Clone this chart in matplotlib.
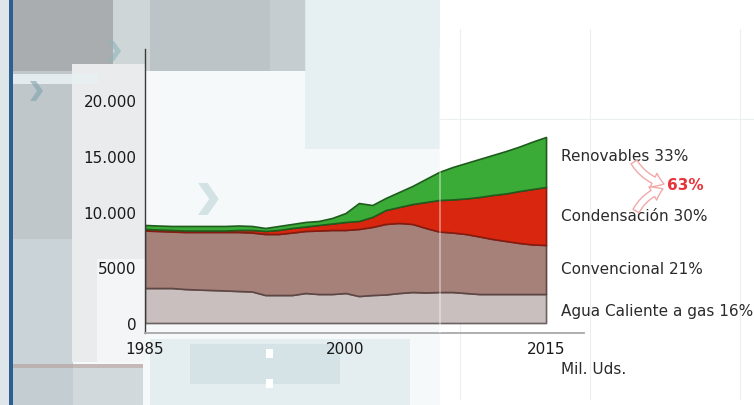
import matplotlib
matplotlib.use("Agg")
import matplotlib.pyplot as plt
from matplotlib.patches import Rectangle, FancyArrowPatch, Polygon

# ---------------- data (thousand units) ----------------
years = list(range(1985, 2016))
agua = [3140, 3140, 3140, 3050, 3000, 2960, 2920, 2870, 2830, 2510,
        2510, 2510, 2690, 2600, 2600, 2690, 2420, 2510, 2560, 2690,
        2780, 2740, 2780, 2780, 2690, 2600, 2600, 2600, 2600, 2600, 2600]
conv_top = [8300, 8260, 8210, 8170, 8170, 8170, 8170, 8170, 8120, 7990,
            7990, 8120, 8260, 8300, 8350, 8350, 8440, 8620, 8890, 8980,
            8890, 8530, 8210, 8120, 7990, 7770, 7540, 7360, 7180, 7050, 7000]
cond_top = [8440, 8390, 8350, 8300, 8300, 8300, 8300, 8350, 8350, 8260,
            8350, 8530, 8660, 8800, 8930, 9070, 9160, 9520, 10140, 10410,
            10680, 10860, 11040, 11090, 11180, 11310, 11490, 11630, 11850, 12030, 12210]
total = [8800, 8750, 8710, 8710, 8710, 8710, 8710, 8750, 8710, 8530,
         8710, 8890, 9070, 9160, 9430, 9870, 10770, 10590, 11220, 11760,
         12300, 12930, 13560, 14000, 14360, 14720, 15080, 15440, 15840, 16290, 16700]
convencional = [c - a for c, a in zip(conv_top, agua)]
condensacion = [r - c for r, c in zip(cond_top, conv_top)]
renovables = [t - r for t, r in zip(total, cond_top)]

series_labels = ["Renovables 33%", "Condensación 30%", "Convencional 21%", "Agua Caliente a gas 16%"]
combined_label = "63%"
unit_label = "Mil. Uds."
ytick_vals = [0, 5000, 10000, 15000, 20000]
ytick_labels = ["0", "5000", "10.000", "15.000", "20.000"]
xtick_vals = [1985, 2000, 2015]
xtick_labels = ["1985", "2000", "2015"]

fill_colors = ["#c8bfbe", "#a6817a", "#d8260f", "#3aab36"]
edge_colors = ["#6c6262", "#5e4644", "#861a0e", "#1f5c1d"]

W, H = 754, 406
fig = plt.figure(figsize=(W / 100, H / 100), dpi=100)
fig.patch.set_facecolor("white")

# ---------------- decorative background ----------------
bg = fig.add_axes([0, 0, 1, 1])
bg.set_xlim(0, W)
bg.set_ylim(H, 0)
bg.axis("off")
bg.set_zorder(0)

def rect(x, y, w, h, c, a=1.0, z=0):
    bg.add_patch(Rectangle((x, y), w, h, facecolor=c, edgecolor="none", alpha=a, zorder=z))

rect(0, 0, W, H, "#f6f9fa")
rect(440, 0, 314, H, "#ffffff")
rect(13, 0, 60, H, "#bfc7cb")
rect(13, 240, 60, 166, "#c9d3d8")
rect(13, 0, 100, 72, "#a9adb0")
rect(113, 0, 40, 72, "#cfd6d8")
rect(150, 0, 120, 72, "#bcc4c7")
rect(270, 0, 36, 72, "#c6cdd0")
rect(305, 0, 135, 150, "#e3eef2", 0.8)
rect(72, 65, 73, 298, "#e9ebec")
rect(97, 260, 48, 103, "#f3f5f6")
rect(13, 75, 85, 10, "#e8f0f2", 0.9)
rect(13, 365, 130, 4, "#b8a9a6", 0.8)
rect(13, 369, 130, 37, "#c3ccd0", 0.7)
rect(150, 340, 260, 66, "#dde8ec", 0.7)
rect(190, 345, 150, 40, "#c8d8de", 0.5)
rect(9, 0, 4, H, "#2d5f92")
rect(0, 0, 9, H, "#dfe6ea")
rect(266, 350, 7, 9, "#ffffff")
rect(266, 380, 7, 9, "#ffffff")
# faint grid decoration on the right
for gx in [460, 590, 740]:
    bg.plot([gx, gx], [30, 400], color="#eceff0", lw=0.8, zorder=0.5)
bg.plot([430, 754], [120, 120], color="#eceff0", lw=0.8, zorder=0.5)
# pale chevrons
def chevron(x, y, s, c, a):
    pts = [(x, y - s), (x + s * 0.6, y - s), (x + s * 1.3, y), (x + s * 0.6, y + s),
           (x, y + s), (x + s * 0.7, y)]
    bg.add_patch(Polygon(pts, closed=True, facecolor=c, edgecolor="none", alpha=a, zorder=0.6))
chevron(108, 52, 10, "#8fb3b8", 0.6)
chevron(30, 92, 10, "#7fa2aa", 0.6)
chevron(198, 200, 16, "#c5d9dc", 0.7)

# ---------------- main chart ----------------
ax = fig.add_axes([145 / W, 1 - 334 / H, (584 - 145) / W, (334 - 50) / H])
ax.set_zorder(2)
ax.patch.set_alpha(0)
polys = ax.stackplot(years, agua, convencional, condensacion, renovables,
                     colors=fill_colors, linewidth=1.2)
for p, ec in zip(polys, edge_colors):
    p.set_edgecolor(ec)

ax.set_xlim(1985, 2017.84)
ax.set_ylim(-898, 24597)
for s in ["top", "right"]:
    ax.spines[s].set_visible(False)
ax.spines["left"].set_color("#3a3a3a")
ax.spines["left"].set_linewidth(1.0)
ax.spines["bottom"].set_color("#a8a8a8")
ax.spines["bottom"].set_linewidth(1.3)
ax.set_yticks(ytick_vals)
ax.set_yticklabels(ytick_labels)
ax.set_xticks(xtick_vals)
ax.set_xticklabels(xtick_labels)
ax.tick_params(axis="both", length=0, labelsize=11, colors="#1a1a1a")
ax.tick_params(axis="y", pad=6)
ax.tick_params(axis="x", pad=6)
ax.axvline(2007.1, color="white", lw=1.2, alpha=0.45, zorder=5)

# ---------------- labels on the right ----------------
lab_y = [157, 217, 270, 312]
for t, yy in zip(series_labels, lab_y):
    bg.text(561, yy, t, ha="left", va="center", fontsize=11, color="#2b2b2b", zorder=3)
bg.text(667, 186, combined_label, ha="left", va="center", fontsize=11, fontweight="bold",
        color="#e8333a", zorder=3)
bg.text(561, 370, unit_label, ha="left", va="center", fontsize=11, color="#2b2b2b", zorder=3)

for (x0, y0), tip, rad in [((634, 163), (664, 185), 0.2), ((636, 212), (663, 190), -0.2)]:
    arr = FancyArrowPatch((x0, y0), tip, connectionstyle=f"arc3,rad={rad}",
                          arrowstyle="simple,head_length=8,head_width=11,tail_width=5",
                          facecolor="white", edgecolor="#f0a9ab", lw=1.0, zorder=3,
                          shrinkA=0, shrinkB=0)
    bg.add_patch(arr)

fig.savefig("out.png", dpi=100)
